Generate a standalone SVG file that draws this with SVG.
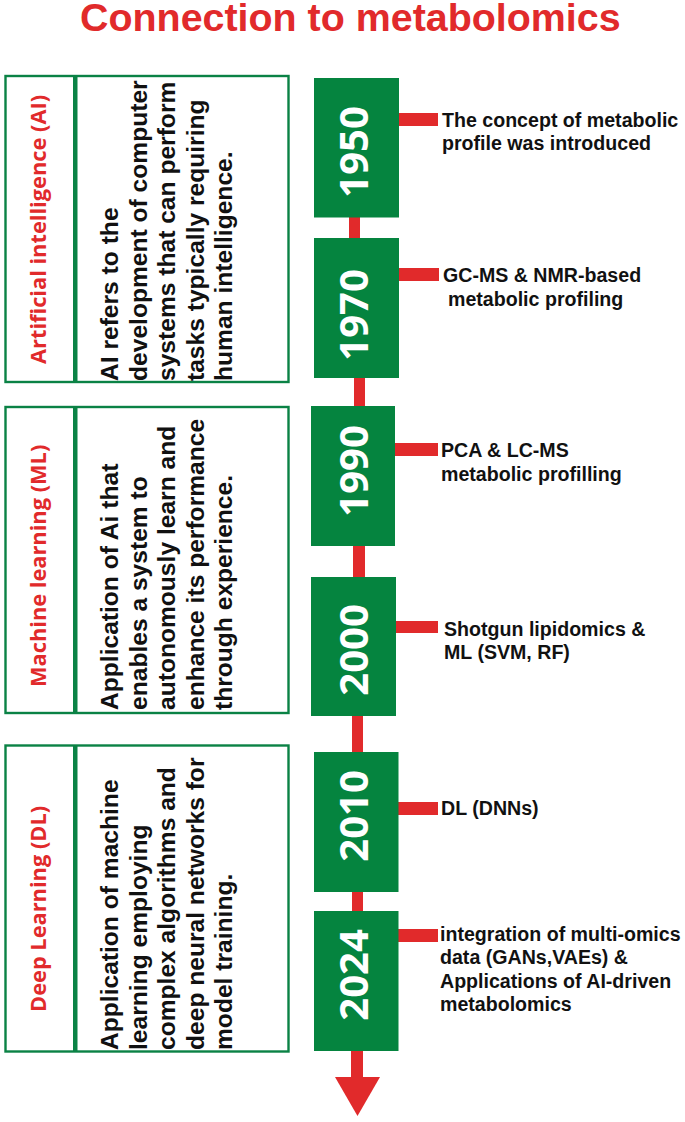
<svg xmlns="http://www.w3.org/2000/svg" width="685" height="1122" viewBox="0 0 685 1122">
<style>
.bg{fill:#fff}
.panel{fill:#fff;stroke:#0a8245;stroke-width:2.4}
.div{fill:#0a8245}
.box{fill:#05843f}
.red{fill:#e12a2b}
.title{font:bold 39.400px "Liberation Sans",Arial,sans-serif;fill:#e12a2b}
.head{font:bold 21.800px "Open Sans",sans-serif;fill:#e12a2b}
.desc{font:bold 24.600px "Liberation Sans",Arial,sans-serif;fill:#111}
.note{font:bold 19.600px "Liberation Sans",Arial,sans-serif;fill:#111}
.year{font:bold 40px "Open Sans",sans-serif;fill:#fff;text-anchor:middle}
</style>
<rect class="bg" width="685" height="1122"/>
<text id="title" class="title" x="80" y="31">Connection to metabolomics</text>
<g id="connectors">
<rect class="red" x="349" y="215" width="11" height="25"/>
<rect class="red" x="354" y="376" width="11" height="32"/>
<rect class="red" x="353" y="544" width="12" height="35"/>
<rect class="red" x="352" y="714" width="11" height="40"/>
<rect class="red" x="352" y="890" width="11" height="23"/>
<rect class="red" x="351" y="1049" width="12" height="30"/>
<polygon class="red" points="335,1077 380,1077 357.500,1116"/>
<rect class="red" x="398" y="113" width="40" height="13"/>
<rect class="red" x="398" y="268" width="41" height="13"/>
<rect class="red" x="395" y="443" width="43" height="13"/>
<rect class="red" x="396" y="621" width="42" height="12"/>
<rect class="red" x="398" y="802" width="40" height="13"/>
<rect class="red" x="398" y="929" width="40" height="13"/>
</g>
<g id="panel-ai">
<rect class="panel" x="5.500" y="76" width="283" height="306"/>
<rect class="div" x="73" y="76" width="4.500" height="306"/>
<text class="head" transform="translate(46 364) rotate(-90)">Artificial intelligence (AI)</text>
<g class="desc">
<text transform="translate(118 381) rotate(-90)">AI refers to the</text>
<text transform="translate(147 381) rotate(-90)">development of computer</text>
<text transform="translate(175 381) rotate(-90)">systems that can perform</text>
<text transform="translate(204 381) rotate(-90)">tasks typically requiring</text>
<text transform="translate(232 381) rotate(-90)">human intelligence.</text>
</g>
</g>
<g id="panel-ml">
<rect class="panel" x="5.500" y="407" width="283" height="306"/>
<rect class="div" x="73" y="407" width="4.500" height="306"/>
<text class="head" transform="translate(46 687) rotate(-90)">Machine learning (ML)</text>
<g class="desc">
<text transform="translate(118 710) rotate(-90)">Application of Ai that</text>
<text transform="translate(147 710) rotate(-90)">enables a system to</text>
<text transform="translate(175 710) rotate(-90)">autonomously learn and</text>
<text transform="translate(204 710) rotate(-90)">enhance its performance</text>
<text transform="translate(232 710) rotate(-90)">through experience.</text>
</g>
</g>
<g id="panel-dl">
<rect class="panel" x="5.500" y="745.500" width="283" height="306"/>
<rect class="div" x="73" y="745.500" width="4.500" height="306"/>
<text class="head" transform="translate(46 1012) rotate(-90)">Deep Learning (DL)</text>
<g class="desc">
<text transform="translate(118 1050) rotate(-90)">Application of machine</text>
<text transform="translate(147 1050) rotate(-90)">learning employing</text>
<text transform="translate(175 1050) rotate(-90)">complex algorithms and</text>
<text transform="translate(204 1050) rotate(-90)">deep neural networks for</text>
<text transform="translate(232 1050) rotate(-90)">model training.</text>
</g>
</g>
<g id="y1950"><rect class="box" x="314" y="78" width="85" height="139.500"/><text class="year" transform="translate(368 152) rotate(-90)">1950</text></g>
<g id="y1970"><rect class="box" x="314" y="238" width="85" height="140"/><text class="year" transform="translate(368 315) rotate(-90)">1970</text></g>
<g id="y1990"><rect class="box" x="311" y="406" width="84" height="140"/><text class="year" transform="translate(368 471) rotate(-90)">1990</text></g>
<g id="y2000"><rect class="box" x="311" y="577" width="85" height="139"/><text class="year" transform="translate(368 650) rotate(-90)">2000</text></g>
<g id="y2010"><rect class="box" x="314" y="752" width="84.500" height="140"/><text class="year" transform="translate(368 816) rotate(-90)">2010</text></g>
<g id="y2024"><rect class="box" x="314" y="911" width="84.500" height="140"/><text class="year" transform="translate(368 975) rotate(-90)">2024</text></g>
<g id="note-1950" class="note"><text x="442" y="127">The concept of metabolic</text><text x="442" y="150">profile was introduced</text></g>
<g id="note-1970" class="note"><text x="443" y="282">GC-MS &amp; NMR-based</text><text x="448" y="306">metabolic profiling</text></g>
<g id="note-1990" class="note"><text x="441" y="457">PCA &amp; LC-MS</text><text x="441" y="481">metabolic profilling</text></g>
<g id="note-2000" class="note"><text x="444" y="636">Shotgun lipidomics &amp;</text><text x="444" y="659">ML (SVM, RF)</text></g>
<g id="note-2010" class="note"><text x="441" y="815">DL (DNNs)</text></g>
<g id="note-2024" class="note"><text x="440" y="941">integration of multi-omics</text><text x="440" y="964">data (GANs,VAEs) &amp;</text><text x="440" y="988">Applications of AI-driven</text><text x="440" y="1011">metabolomics</text></g>
</svg>
